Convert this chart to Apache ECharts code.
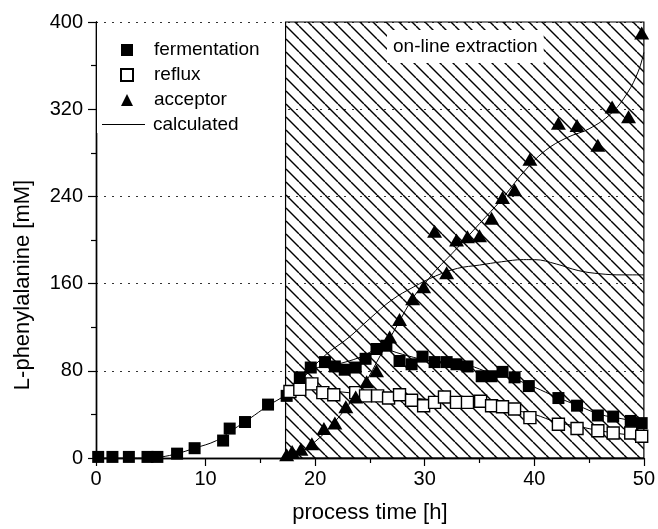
<!DOCTYPE html>
<html><head><meta charset="utf-8">
<script src="https://cdn.jsdelivr.net/npm/echarts@6/dist/echarts.min.js"></script>
<style>html,body{margin:0;padding:0;background:#fff}#c{width:658px;height:529px}</style>
</head><body><div id="c"></div>
<script>
// ---- data (process time [h], L-phenylalanine [mM]) ----
const fermentation = [[0.2,1],[1.5,1],[3.0,1],[4.7,1],[5.6,1],[7.4,4],[9.0,9],[11.6,16],[12.2,27],[13.6,33],[15.7,49],[17.4,57],[18.6,74],[19.6,83],[20.9,88],[21.8,84],[22.7,81],[23.7,83],[24.6,91],[25.6,100],[26.5,103],[27.7,89],[28.8,86],[29.8,93],[30.9,88],[32.0,88],[32.9,86],[33.9,84],[35.2,75],[36.1,75],[37.1,79],[38.2,74],[39.5,66],[42.2,55],[43.9,48],[45.8,39],[47.2,38],[48.8,34],[49.8,32]];
const reflux = [[17.7,61],[18.6,63],[19.7,68],[20.7,60],[21.7,58],[23.7,60],[24.6,57],[25.7,57],[26.7,55],[27.7,58],[28.8,53],[29.9,48],[30.9,51],[31.8,56],[32.9,51],[33.9,51],[35.1,52],[36.1,48],[37.1,47],[38.2,45],[39.6,37],[42.2,31],[43.9,27],[45.8,25],[47.2,23],[48.8,23],[49.8,20]];
const acceptor = [[17.4,3],[17.9,6],[18.7,8],[19.7,13],[20.8,27],[21.8,32],[22.8,47],[23.7,56],[24.7,70],[25.6,80],[26.8,111],[27.7,127],[28.9,146],[29.9,157],[30.9,208],[32.0,170],[32.9,200],[33.9,203],[35.0,204],[36.1,220],[37.1,239],[38.2,246],[39.6,274],[42.2,307],[43.9,305],[45.8,287],[47.1,322],[48.6,313],[49.8,390]];
const calcFermentation = [[0,0],[5,0],[6,1],[7.4,4],[9,9],[11,16],[12.5,26],[14,36],[15.7,48],[17.3,58],[18.5,70],[20,82],[22,86],[24,92],[26,100],[28,95],[30,90],[32,88],[34,85],[36,78],[38,73],[40,65],[42,56],[44,48],[46,40],[48,36],[50,32]];
const calcReflux = [[17.3,57],[18,62],[19,64],[20,63],[22,61],[24,59],[26,57],[28,56],[30,54],[32,53],[34,51],[36,47],[38,44],[40,40],[42,33],[44,29],[46,25],[48,22],[50,20]];
const calcAcceptor = [[17.3,0],[18.5,5],[20,15],[21.5,30],[23,48],[24.5,68],[26,95],[27.5,122],[29,148],[30,160],[31,172],[33,193],[35,215],[37,237],[39,262],[41,282],[43,294],[45,302],[47,316],[48.5,335],[49.5,355],[50,372]];
const calcTotal = [[17.3,57],[19,75],[21,95],[23,110],[25,128],[27,145],[29,157],[31,167],[33,174],[35,177],[37,180],[39,182],[40,182],[42,178],[44,172],[46,169],[48,168],[50,168]];
const extractionStart = 17.3, extractionEnd = 50;
const xTicks = {min:0, max:50, interval:10};
const yTicks = {min:0, max:400, interval:80};

// ---- hatch pattern ----
const hp = document.createElement('canvas');
const S = 13;
hp.width = S; hp.height = S;
const g = hp.getContext('2d');
g.strokeStyle = '#000'; g.lineWidth = 1.4;
for (const o of [-S, 0, S]) { g.beginPath(); g.moveTo(o, 0); g.lineTo(o + S, S); g.stroke(); }

const FONT = 'Liberation Sans, Arial, sans-serif';
const chart = echarts.init(document.getElementById('c'), null, {renderer:'canvas'});
const lineSeries = (d) => ({name:'calculated', type:'line', data:d, smooth:0.4, showSymbol:false, symbol:'none',
  lineStyle:{color:'#000', width:1}, itemStyle:{color:'#000'}, z:3});
chart.setOption({
  animation:false,
  grid:{left:96, right:13, top:22, bottom:70},
  title:{text:'on-line extraction', left:387, top:30, backgroundColor:'#fff', padding:[7,6,7,6],
    textStyle:{fontFamily:FONT, fontSize:19, fontWeight:'normal', color:'#000', lineHeight:19}},
  graphic:[{type:'rect', shape:{x:97, y:23, width:188, height:110}, style:{fill:'#fff'}, z:3}],
  legend:[
    {data:['fermentation','reflux','acceptor'], orient:'vertical', left:115, top:35.5, itemWidth:12, itemHeight:12, itemGap:6, z:10,
      textStyle:{fontFamily:FONT, fontSize:19, color:'#000', lineHeight:19, padding:[0,0,0,16]}},
    {data:[{name:'calculated', icon:'rect'}], left:97, top:110, itemWidth:43, itemHeight:1, z:10,
      textStyle:{fontFamily:FONT, fontSize:19, color:'#000', lineHeight:19, padding:[0,0,0,3]}}
  ],
  xAxis:[
    {type:'value', min:xTicks.min, max:xTicks.max, interval:xTicks.interval, position:'bottom',
      name:'process time [h]', nameLocation:'middle', nameGap:44, nameTextStyle:{fontFamily:FONT, fontSize:22, color:'#000'},
      axisLine:{lineStyle:{color:'#000', width:1.4}}, axisTick:{inside:false, length:8, lineStyle:{color:'#000', width:1.2}},
      minorTick:{show:true, splitNumber:2, length:5, lineStyle:{color:'#000', width:1.2}},
      axisLabel:{fontFamily:FONT, fontSize:20, color:'#000', margin:11}, splitLine:{show:false}},
    {type:'value', min:xTicks.min, max:xTicks.max, interval:xTicks.interval, position:'top',
      axisLine:{lineStyle:{color:'#000', width:1.4}}, axisTick:{inside:true, length:4, lineStyle:{color:'#000'}},
      minorTick:{show:true, splitNumber:2, length:4, lineStyle:{color:'#000'}},
      axisLabel:{show:false}, splitLine:{show:false}}
  ],
  yAxis:[
    {type:'value', min:yTicks.min, max:yTicks.max, interval:yTicks.interval, position:'left',
      name:'L-phenylalanine [mM]', nameLocation:'middle', nameGap:62,
      nameTextStyle:{fontFamily:FONT, fontSize:22, color:'#000', padding:[0,90,0,0]},
      axisLine:{show:true, lineStyle:{color:'#000', width:1.4}}, axisTick:{show:true, inside:false, length:8, lineStyle:{color:'#000', width:1.2}},
      minorTick:{show:true, splitNumber:2, length:5, lineStyle:{color:'#000', width:1.2}},
      axisLabel:{fontFamily:FONT, fontSize:20, color:'#000', margin:13},
      splitLine:{show:true, lineStyle:{color:'#333', width:1.2, type:[2,6]}}},
    {type:'value', min:yTicks.min, max:yTicks.max, interval:yTicks.interval, position:'right',
      axisLine:{show:true, lineStyle:{color:'#000', width:1.4}}, axisTick:{show:true, inside:true, length:5, lineStyle:{color:'#000'}},
      minorTick:{show:true, splitNumber:2, length:5, lineStyle:{color:'#000'}},
      axisLabel:{show:false}, splitLine:{show:false}}
  ],
  series:[
    {name:'hatch', type:'line', data:[], silent:true,
      markArea:{silent:true, itemStyle:{color:{image:hp, repeat:'repeat'}, borderColor:'#000', borderWidth:1.2, opacity:1},
        data:[[{xAxis:extractionStart, yAxis:yTicks.min},{xAxis:extractionEnd, yAxis:yTicks.max}]]}, z:1},
    lineSeries(calcFermentation),
    lineSeries(calcReflux),
    lineSeries(calcAcceptor),
    lineSeries(calcTotal),
    {name:'fermentation', type:'scatter', data:fermentation, symbol:'rect', symbolSize:12, itemStyle:{color:'#000', opacity:1}, z:5},
    {name:'reflux', type:'scatter', data:reflux, symbol:'rect', symbolSize:12, itemStyle:{color:'#fff', borderColor:'#000', borderWidth:1.4, opacity:1}, z:5},
    {name:'acceptor', type:'scatter', data:acceptor, symbol:'triangle', symbolSize:[15,13], itemStyle:{color:'#000', opacity:1}, z:5}
  ]
});
</script></body></html>
